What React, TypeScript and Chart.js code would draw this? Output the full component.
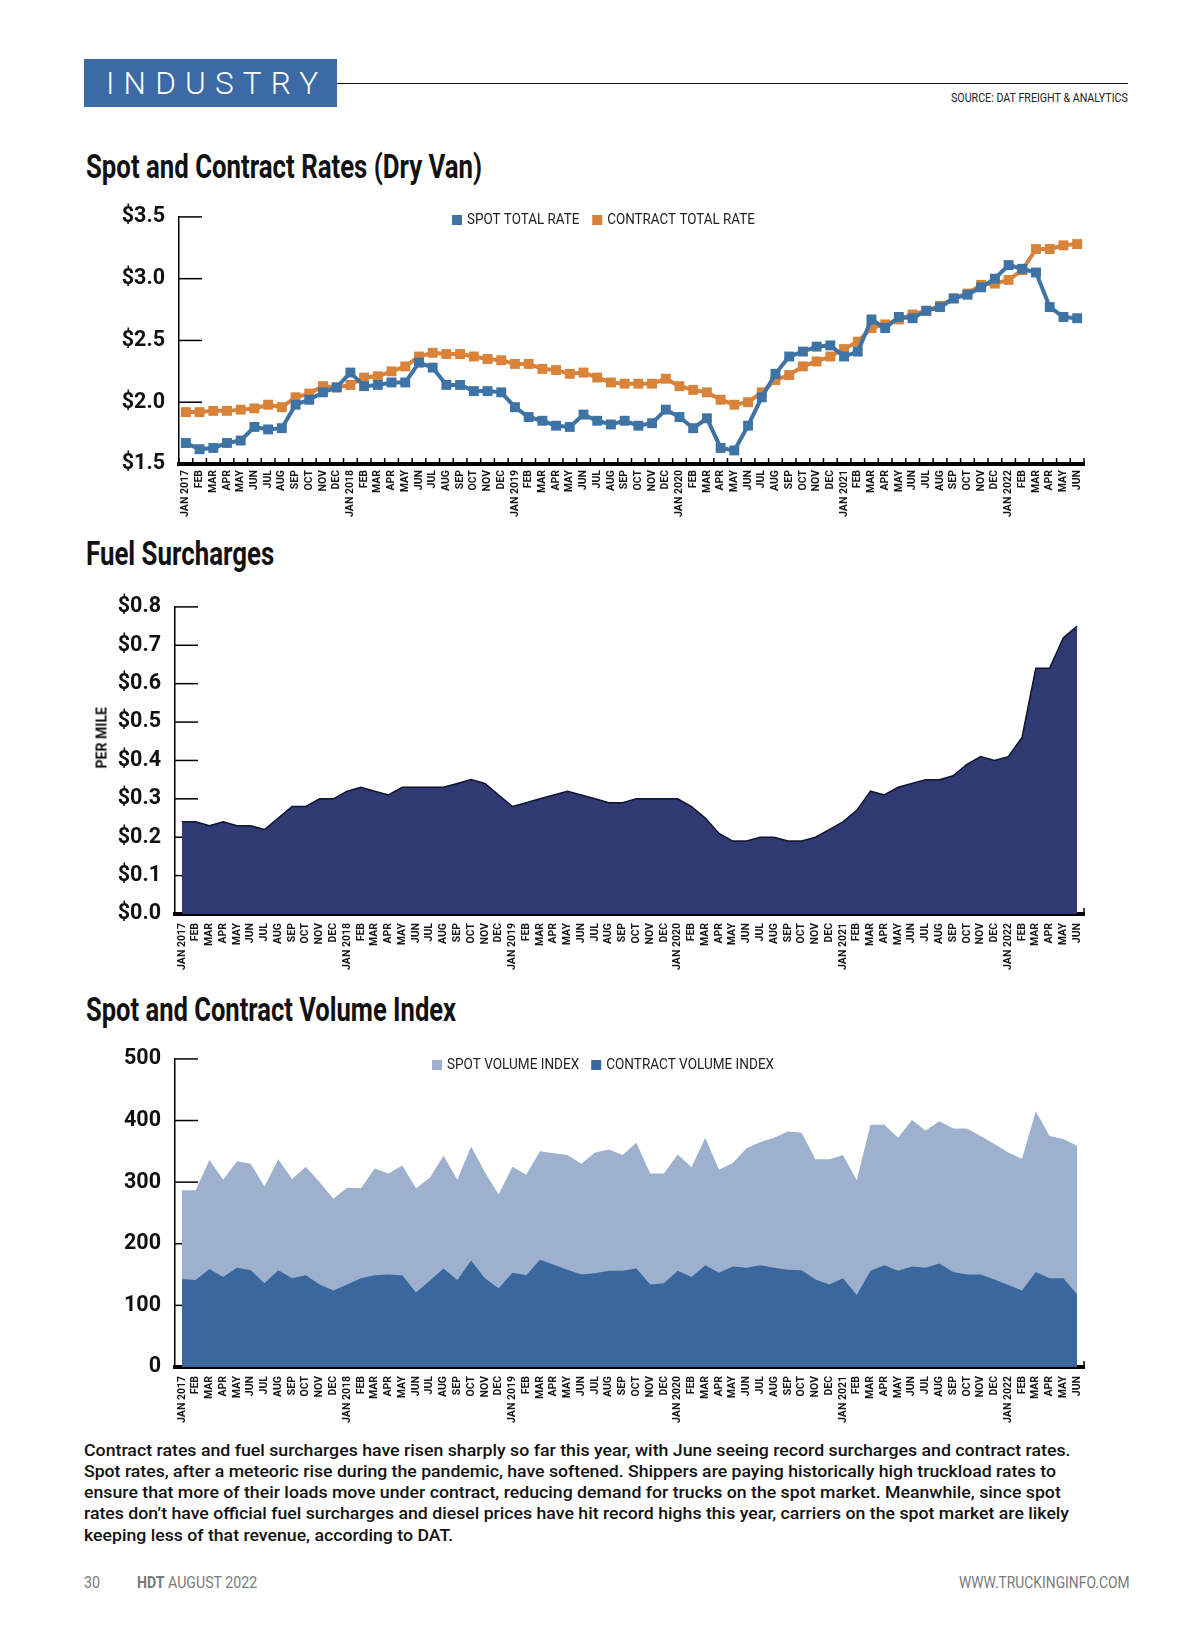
import React, { useEffect, useLayoutEffect, useRef } from 'react';
import { Chart, registerables } from 'chart.js';

Chart.register(...registerables);

// ---------------- DATA ----------------
const categories: string[] = [
  'JAN 2017', 'FEB', 'MAR', 'APR', 'MAY', 'JUN', 'JUL', 'AUG', 'SEP', 'OCT', 'NOV', 'DEC',
  'JAN 2018', 'FEB', 'MAR', 'APR', 'MAY', 'JUN', 'JUL', 'AUG', 'SEP', 'OCT', 'NOV', 'DEC',
  'JAN 2019', 'FEB', 'MAR', 'APR', 'MAY', 'JUN', 'JUL', 'AUG', 'SEP', 'OCT', 'NOV', 'DEC',
  'JAN 2020', 'FEB', 'MAR', 'APR', 'MAY', 'JUN', 'JUL', 'AUG', 'SEP', 'OCT', 'NOV', 'DEC',
  'JAN 2021', 'FEB', 'MAR', 'APR', 'MAY', 'JUN', 'JUL', 'AUG', 'SEP', 'OCT', 'NOV', 'DEC',
  'JAN 2022', 'FEB', 'MAR', 'APR', 'MAY', 'JUN',
];

const spotTotalRate: number[] = [
  1.67, 1.62, 1.63, 1.67, 1.69, 1.80, 1.78, 1.79, 1.98, 2.02, 2.08, 2.12,
  2.24, 2.13, 2.14, 2.16, 2.16, 2.32, 2.28, 2.14, 2.14, 2.09, 2.09, 2.08,
  1.96, 1.88, 1.85, 1.81, 1.80, 1.90, 1.85, 1.82, 1.85, 1.81, 1.83, 1.94,
  1.88, 1.79, 1.87, 1.63, 1.61, 1.81, 2.04, 2.23, 2.37, 2.41, 2.45, 2.46,
  2.37, 2.41, 2.67, 2.60, 2.69, 2.68, 2.74, 2.77, 2.84, 2.87, 2.93, 3.00,
  3.11, 3.08, 3.05, 2.77, 2.69, 2.68,
];

const contractTotalRate: number[] = [
  1.92, 1.92, 1.93, 1.93, 1.94, 1.95, 1.98, 1.96, 2.04, 2.07, 2.13, 2.12,
  2.14, 2.20, 2.21, 2.25, 2.29, 2.37, 2.40, 2.39, 2.39, 2.37, 2.35, 2.34,
  2.31, 2.31, 2.27, 2.26, 2.23, 2.24, 2.20, 2.16, 2.15, 2.15, 2.15, 2.19,
  2.13, 2.10, 2.08, 2.02, 1.98, 2.00, 2.08, 2.18, 2.22, 2.29, 2.33, 2.37,
  2.43, 2.49, 2.60, 2.63, 2.67, 2.71, 2.74, 2.78, 2.84, 2.88, 2.95, 2.96,
  2.99, 3.07, 3.24, 3.24, 3.27, 3.28,
];

const fuelSurcharge: number[] = [
  0.24, 0.24, 0.23, 0.24, 0.23, 0.23, 0.22, 0.25, 0.28, 0.28, 0.30, 0.30,
  0.32, 0.33, 0.32, 0.31, 0.33, 0.33, 0.33, 0.33, 0.34, 0.35, 0.34, 0.31,
  0.28, 0.29, 0.30, 0.31, 0.32, 0.31, 0.30, 0.29, 0.29, 0.30, 0.30, 0.30,
  0.30, 0.28, 0.25, 0.21, 0.19, 0.19, 0.20, 0.20, 0.19, 0.19, 0.20, 0.22,
  0.24, 0.27, 0.32, 0.31, 0.33, 0.34, 0.35, 0.35, 0.36, 0.39, 0.41, 0.40,
  0.41, 0.46, 0.64, 0.64, 0.72, 0.75,
];

const spotVolumeIndex: number[] = [
  287, 287, 336, 304, 334, 330, 293, 337, 305, 325, 300, 273,
  291, 290, 322, 314, 327, 290, 307, 343, 304, 358, 316, 280,
  325, 312, 350, 347, 344, 330, 348, 353, 344, 364, 314, 314,
  345, 324, 372, 320, 331, 355, 365, 372, 382, 380, 337, 337,
  344, 303, 393, 393, 372, 401, 384, 399, 387, 387, 375, 362,
  348, 338, 415, 375, 370, 359,
];

const contractVolumeIndex: number[] = [
  143, 141, 159, 146, 161, 157, 136, 157, 144, 149, 134, 124,
  134, 144, 149, 150, 149, 121, 140, 160, 141, 173, 144, 128,
  153, 149, 174, 166, 158, 150, 152, 156, 156, 160, 134, 136,
  156, 146, 165, 153, 163, 161, 165, 161, 158, 157, 142, 134,
  144, 117, 156, 165, 156, 163, 161, 168, 154, 150, 150, 142,
  133, 124, 154, 144, 144, 118,
];

const rateTicks: number[] = [1.5, 2.0, 2.5, 3.0, 3.5];
const fuelTicks: number[] = [0, 0.1, 0.2, 0.3, 0.4, 0.5, 0.6, 0.7, 0.8];
const volumeTicks: number[] = [0, 100, 200, 300, 400, 500];

// ---------------- STYLE ----------------
const SPOT_BLUE = '#3e73a6';
const CONTRACT_ORANGE = '#d8823a';
const FUEL_NAVY = '#2f3a73';
const VOL_LIGHT = '#9db1ce';
const VOL_DARK = '#3b679f';
const HEADER_BLUE = '#3b6aa4';

const NARROW = "'Liberation Sans Narrow', 'Arial Narrow', Roboto, sans-serif";
const ROBOTO = "Roboto, 'Liberation Sans', sans-serif";

// ---------------- PLUGINS ----------------
const axisDecor = {
  id: 'axisDecor',
  beforeDatasetsDraw(chart: any, _args: any, opts: any) {
    const { ctx, chartArea } = chart;
    const ys = chart.scales.y;
    const xs = chart.scales.x;
    ctx.save();
    ctx.strokeStyle = '#000';
    ctx.lineWidth = 1.5;
    ys.ticks.forEach((t: any) => {
      if (t.value <= ys.min) return;
      const py = ys.getPixelForValue(t.value);
      ctx.beginPath();
      ctx.moveTo(chartArea.left, py);
      ctx.lineTo(chartArea.left + opts.yTick, py);
      ctx.stroke();
    });
    const n = chart.data.labels.length;
    const half = (xs.getPixelForValue(1) - xs.getPixelForValue(0)) / 2;
    const from = opts.allXTicks ? 0 : n;
    for (let i = from; i <= n; i++) {
      const px = i < n ? xs.getPixelForValue(i) - half : xs.getPixelForValue(n - 1) + half;
      ctx.beginPath();
      ctx.moveTo(px, chartArea.bottom);
      ctx.lineTo(px, chartArea.bottom - opts.xTick);
      ctx.stroke();
    }
    ctx.restore();
  },
};

const insideLegend = {
  id: 'insideLegend',
  afterDraw(chart: any, _args: any, opts: any) {
    if (!opts || !opts.display) return;
    const ctx = chart.ctx;
    ctx.save();
    ctx.font = opts.font;
    ctx.textBaseline = 'middle';
    ctx.textAlign = 'left';
    let x = opts.x;
    const y = opts.y;
    const box = opts.box;
    const k = opts.textScale || 1;
    chart.data.datasets.forEach((ds: any) => {
      ctx.fillStyle = ds.backgroundColor;
      ctx.fillRect(x, y - box / 2, box, box);
      x += box + opts.gap;
      ctx.fillStyle = opts.color;
      ctx.save();
      ctx.translate(x, y + 0.5);
      ctx.scale(k, 1);
      ctx.fillText(ds.label, 0, 0);
      ctx.restore();
      x += ctx.measureText(ds.label).width * k + opts.itemGap;
    });
    ctx.restore();
  },
};

function commonOptions(p: {
  ticks: number[];
  fmt: (v: number) => string;
  yWidth: number;
  padTop: number;
  xPad: number;
  legend?: any;
  allXTicks: boolean;
}) {
  return {
    responsive: false,
    animation: false,
    events: [],
    layout: { padding: { top: p.padTop, right: 26, left: 0, bottom: 0 } },
    plugins: {
      legend: { display: false },
      tooltip: { enabled: false },
      title: { display: false },
      insideLegend: p.legend || { display: false },
      axisDecor: { yTick: 23, xTick: 6, allXTicks: p.allXTicks },
    },
    scales: {
      x: {
        type: 'category',
        offset: true,
        z: 1,
        grid: { display: false, drawTicks: false },
        border: { display: true, color: '#000', width: 4 },
        ticks: {
          autoSkip: false,
          maxRotation: 90,
          minRotation: 90,
          padding: p.xPad,
          color: '#151515',
          font: { family: NARROW, size: 10.5, weight: 'bold' },
        },
        afterFit: (s: any) => {
          s.height = 56;
        },
      },
      y: {
        min: p.ticks[0],
        max: p.ticks[p.ticks.length - 1],
        afterBuildTicks: (s: any) => {
          s.ticks = p.ticks.map((v) => ({ value: v }));
        },
        grid: { display: false, drawTicks: false },
        border: { display: true, color: '#000', width: 1.5 },
        ticks: {
          padding: 14,
          color: '#111',
          font: { family: ROBOTO, size: 21.5, weight: 'bold' },
          callback: (v: any) => p.fmt(Number(v)),
        },
        afterFit: (s: any) => {
          s.width = p.yWidth;
        },
      },
    },
  };
}

function ratesConfig(): any {
  return {
    type: 'line',
    data: {
      labels: categories,
      datasets: [
        {
          label: 'SPOT TOTAL RATE',
          data: spotTotalRate,
          borderColor: SPOT_BLUE,
          backgroundColor: SPOT_BLUE,
          borderWidth: 4,
          pointStyle: 'rect',
          pointRadius: 7,
          pointBackgroundColor: SPOT_BLUE,
          pointBorderColor: SPOT_BLUE,
          pointBorderWidth: 0,
          tension: 0,
          fill: false,
        },
        {
          label: 'CONTRACT TOTAL RATE',
          data: contractTotalRate,
          borderColor: CONTRACT_ORANGE,
          backgroundColor: CONTRACT_ORANGE,
          borderWidth: 4,
          pointStyle: 'rect',
          pointRadius: 7,
          pointBackgroundColor: CONTRACT_ORANGE,
          pointBorderColor: CONTRACT_ORANGE,
          pointBorderWidth: 0,
          tension: 0,
          fill: false,
        },
      ],
    },
    options: commonOptions({
      ticks: rateTicks,
      fmt: (v) => '$' + v.toFixed(1),
      yWidth: 79,
      padTop: 24,
      xPad: 6,
      allXTicks: true,
      legend: { display: true, x: 352, y: 30, box: 10, gap: 5, itemGap: 13, font: `14.5px ${ROBOTO}`, textScale: 0.925, color: '#222' },
    }),
    plugins: [axisDecor, insideLegend],
  };
}

function fuelConfig(): any {
  return {
    type: 'line',
    data: {
      labels: categories,
      datasets: [
        {
          label: 'FUEL SURCHARGE',
          data: fuelSurcharge,
          backgroundColor: FUEL_NAVY,
          borderColor: '#11142e',
          borderWidth: 1.5,
          pointRadius: 0,
          tension: 0,
          fill: 'origin',
        },
      ],
    },
    options: commonOptions({
      ticks: fuelTicks,
      fmt: (v) => '$' + v.toFixed(1),
      yWidth: 75,
      padTop: 23,
      xPad: 9,
      allXTicks: false,
    }),
    plugins: [axisDecor, insideLegend],
  };
}

function volumeConfig(): any {
  const opts: any = commonOptions({
    ticks: volumeTicks,
    fmt: (v) => String(Math.round(v)),
    yWidth: 75,
    padTop: 23,
    xPad: 9,
    allXTicks: false,
    legend: { display: true, x: 332, y: 33, box: 10, gap: 5, itemGap: 12, font: `14.5px ${ROBOTO}`, textScale: 0.935, color: '#222' },
  });
  return {
    type: 'line',
    data: {
      labels: categories,
      datasets: [
        {
          label: 'SPOT VOLUME INDEX',
          data: spotVolumeIndex,
          backgroundColor: VOL_LIGHT,
          borderColor: 'rgba(0,0,0,0)',
          borderWidth: 0,
          pointRadius: 0,
          tension: 0,
          fill: 'origin',
          order: 2,
        },
        {
          label: 'CONTRACT VOLUME INDEX',
          data: contractVolumeIndex,
          backgroundColor: VOL_DARK,
          borderColor: 'rgba(0,0,0,0)',
          borderWidth: 0,
          pointRadius: 0,
          tension: 0,
          fill: 'origin',
          order: 1,
        },
      ],
    },
    options: opts,
    plugins: [axisDecor, insideLegend],
  };
}

// ---------------- COMPONENTS ----------------
function ChartCanvas({ make, left, top, width, height }: any) {
  const ref = useRef<HTMLCanvasElement>(null);
  useEffect(() => {
    const chart = new Chart(ref.current as HTMLCanvasElement, make());
    return () => chart.destroy();
  }, []);
  return (
    <canvas
      ref={ref}
      width={width}
      height={height}
      style={{ position: 'absolute', left, top, width, height }}
    />
  );
}

function Txt({ children, x, top, size, family, weight = 400, color = '#111', width, align = 'left', letterSpacing }: any) {
  const ref = useRef<HTMLSpanElement>(null);
  useLayoutEffect(() => {
    const el = ref.current;
    if (!el || !width) return;
    el.style.transform = 'none';
    const w = el.offsetWidth;
    if (w > 0) el.style.transform = `scaleX(${width / w})`;
  }, [width]);
  const pos: any = align === 'left' ? { left: x } : { right: 1200 - x };
  return (
    <div
      style={{
        position: 'absolute',
        top,
        ...pos,
        lineHeight: 1,
        fontSize: size,
        fontFamily: family,
        fontWeight: weight,
        color,
        whiteSpace: 'nowrap',
      }}
    >
      <span
        ref={ref}
        style={{
          display: 'inline-block',
          transformOrigin: align === 'left' ? 'left center' : 'right center',
          letterSpacing,
        }}
      >
        {children}
      </span>
    </div>
  );
}

const paragraphLines: { text: string; width: number }[] = [
  { text: 'Contract rates and fuel surcharges have risen sharply so far this year, with June seeing record surcharges and contract rates.', width: 986 },
  { text: 'Spot rates, after a meteoric rise during the pandemic, have softened. Shippers are paying historically high truckload rates to', width: 972 },
  { text: 'ensure that more of their loads move under contract, reducing demand for trucks on the spot market. Meanwhile, since spot', width: 977 },
  { text: 'rates don\u2019t have official fuel surcharges and diesel prices have hit record highs this year, carriers on the spot market are likely', width: 985 },
  { text: 'keeping less of that revenue, according to DAT.', width: 369 },
];
const paragraphCenters = [1451, 1472, 1493, 1514, 1536];

export default function App() {
  return (
    <div
      style={{
        position: 'absolute',
        left: 0,
        top: 0,
        width: 1200,
        height: 1638,
        background: '#fff',
        overflow: 'hidden',
      }}
    >
      {/* Header */}
      <div style={{ position: 'absolute', left: 84, top: 59, width: 253, height: 48, background: HEADER_BLUE }} />
      <Txt x={106} top={68} size={31} family={ROBOTO} weight={300} color="#fff" letterSpacing="9px" width={221}>
        INDUSTRY
      </Txt>
      <div style={{ position: 'absolute', left: 337, top: 82.5, width: 791, height: 1.5, background: '#111' }} />
      <Txt x={1128} top={92} size={12} family={NARROW} color="#222" width={177} align="right">
        SOURCE: DAT FREIGHT &amp; ANALYTICS
      </Txt>

      {/* Titles */}
      <Txt x={86} top={149.5} size={33} family={NARROW} weight={700} color="#111" width={396}>
        Spot and Contract Rates (Dry Van)
      </Txt>
      <Txt x={86} top={537} size={33} family={NARROW} weight={700} color="#111" width={188}>
        Fuel Surcharges
      </Txt>
      <Txt x={86} top={993} size={33} family={NARROW} weight={700} color="#111" width={370}>
        Spot and Contract Volume Index
      </Txt>

      {/* Charts */}
      <ChartCanvas make={ratesConfig} left={100} top={190} width={1010} height={330} />
      <ChartCanvas make={fuelConfig} left={100} top={580} width={1010} height={390} />
      <ChartCanvas make={volumeConfig} left={100} top={1032} width={1010} height={391} />

      {/* PER MILE axis title */}
      <div
        style={{
          position: 'absolute',
          left: 101.7 - 31,
          top: 737.5 - 7.5,
          width: 62,
          height: 15,
          transform: 'rotate(-90deg)',
          transformOrigin: 'center center',
        }}
      >
        <Txt x={0} top={0} size={15} family={NARROW} weight={700} color="#111" width={62}>
          PER MILE
        </Txt>
      </div>

      {/* Paragraph */}
      {paragraphLines.map((l, i) => (
        <Txt key={i} x={84} top={paragraphCenters[i] - 7.9} size={16} family={ROBOTO} weight={500} color="#111" width={l.width}>
          {l.text}
        </Txt>
      ))}

      {/* Footer */}
      <Txt x={84} top={1573.7} size={17} family={NARROW} color="#7a7a7a" width={16}>
        30
      </Txt>
      <Txt x={137} top={1573.7} size={17} family={NARROW} color="#7a7a7a" width={120}>
        <b style={{ fontWeight: 700 }}>HDT</b> AUGUST 2022
      </Txt>
      <Txt x={1129} top={1573.7} size={17} family={NARROW} color="#7a7a7a" width={171} align="right">
        WWW.TRUCKINGINFO.COM
      </Txt>
    </div>
  );
}
